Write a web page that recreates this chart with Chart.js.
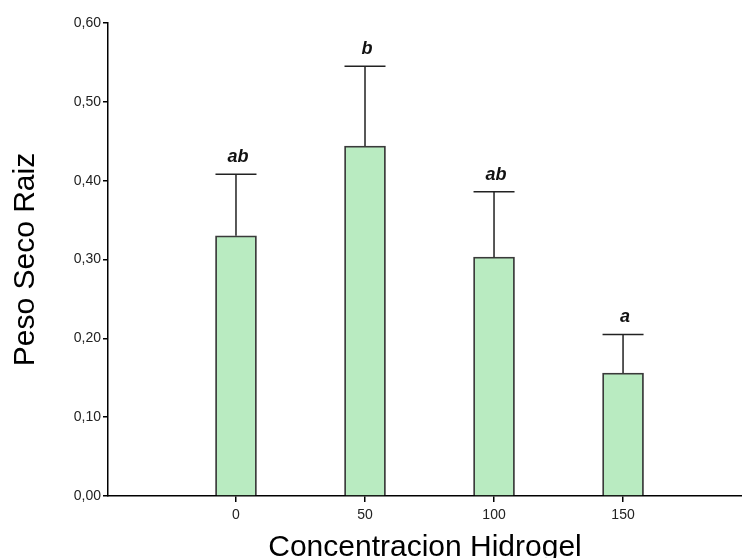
<!DOCTYPE html>
<html>
<head>
<meta charset="utf-8">
<script src="https://cdn.jsdelivr.net/npm/chart.js@4/dist/chart.umd.min.js"></script>
<style>
  html, body { margin: 0; padding: 0; background: #fff; }
  #wrap { width: 742px; height: 558px; position: relative; }
</style>
</head>
<body>
<div id="wrap"><canvas id="c"></canvas></div>
<script>
// Data
const categories = [0, 50, 100, 150];
const means = [0.330, 0.444, 0.303, 0.156];
const errorTops = [0.408, 0.545, 0.386, 0.205];
const letters = ['ab', 'b', 'ab', 'a'];
const yTickValues = [0, 0.1, 0.2, 0.3, 0.4, 0.5, 0.6];
const xTitle = 'Concentracion Hidrogel';
const yTitle = 'Peso Seco Raiz';

const points = categories.map((c, i) => ({ x: c, y: means[i] }));

const errorBarPlugin = {
  id: 'errorBars',
  afterDatasetsDraw(chart) {
    const ctx = chart.ctx;
    const meta = chart.getDatasetMeta(0);
    const yScale = chart.scales.y;
    ctx.save();
    meta.data.forEach((bar, i) => {
      const x = bar.x;
      const yTop = yScale.getPixelForValue(errorTops[i]);
      const yBar = yScale.getPixelForValue(means[i]);
      const half = bar.width / 2;
      ctx.strokeStyle = '#222';
      ctx.lineWidth = 1.5;
      ctx.beginPath();
      ctx.moveTo(x, yBar);
      ctx.lineTo(x, yTop);
      ctx.moveTo(x - half, yTop);
      ctx.lineTo(x + half, yTop);
      ctx.stroke();
      ctx.fillStyle = '#111';
      ctx.font = 'italic bold 18px "Liberation Sans", Arial, sans-serif';
      ctx.textAlign = 'center';
      ctx.textBaseline = 'alphabetic';
      ctx.fillText(letters[i], x + 2, yTop - 12);
    });
    ctx.restore();
  }
};

new Chart(document.getElementById('c'), {
  type: 'bar',
  data: {
    datasets: [{
      data: points,
      backgroundColor: 'rgb(185,235,193)',
      borderColor: '#3a3a3a',
      borderWidth: 1.8,
      barThickness: 41
    }]
  },
  options: {
    responsive: true,
    maintainAspectRatio: false,
    animation: false,
    layout: { padding: { top: 23, right: 0, left: 0, bottom: 0 } },
    plugins: { legend: { display: false }, tooltip: { enabled: false } },
    scales: {
      x: {
        type: 'linear',
        min: -49.6,
        max: 196.1,
        offset: false,
        afterBuildTicks(scale) { scale.ticks = categories.map(v => ({ value: v })); },
        afterFit(scale) { scale.height = 62; },
        grid: { display: true, drawOnChartArea: false, drawTicks: true, tickLength: 6, color: '#000', lineWidth: 1.5, offset: false },
        border: { display: true, color: '#000', width: 1.5 },
        ticks: {
          color: '#222',
          font: { family: '"Liberation Sans", Arial, sans-serif', size: 14 },
          padding: 5,
          maxRotation: 0,
          callback: v => String(v)
        },
        title: {
          display: true,
          text: xTitle,
          color: '#000',
          font: { family: '"Liberation Sans", Arial, sans-serif', size: 30 },
          padding: { top: 0, bottom: -8 }
        }
      },
      y: {
        min: 0,
        max: 0.6,
        afterBuildTicks(scale) { scale.ticks = yTickValues.map(v => ({ value: v })); },
        afterFit(scale) { scale.width = 108; },
        grid: { display: true, drawOnChartArea: false, drawTicks: true, tickLength: 5, color: '#000', lineWidth: 1.5 },
        border: { display: true, color: '#000', width: 1.5 },
        ticks: {
          color: '#222',
          font: { family: '"Liberation Sans", Arial, sans-serif', size: 14 },
          padding: 2,
          callback: v => Number(v).toFixed(2).replace('.', ',')
        },
        title: {
          display: true,
          text: yTitle,
          color: '#000',
          font: { family: '"Liberation Sans", Arial, sans-serif', size: 30 },
          padding: { top: 8, bottom: 0 }
        }
      }
    }
  },
  plugins: [errorBarPlugin]
});
</script>
</body>
</html>
